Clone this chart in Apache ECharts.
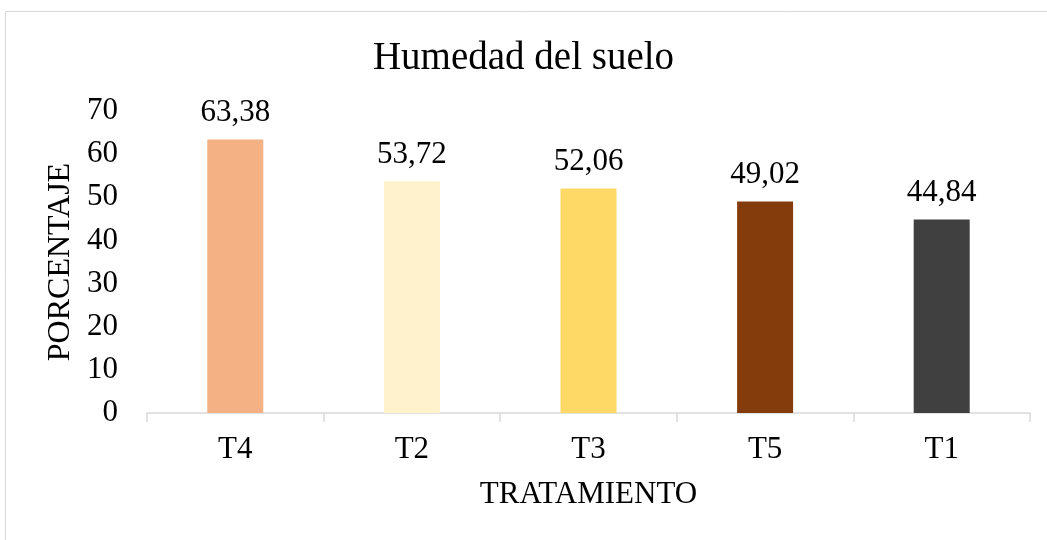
<!DOCTYPE html>
<html>
<head>
<meta charset="utf-8">
<script src="https://cdn.jsdelivr.net/npm/echarts@6/dist/echarts.min.js"></script>
<style>
  html, body { margin: 0; padding: 0; background: #fff; }
  #chart { width: 1047px; height: 540px; }
</style>
</head>
<body>
<div id="chart"></div>
<script>
var categories = ['T4', 'T2', 'T3', 'T5', 'T1'];
var values = [63.38, 53.72, 52.06, 49.02, 44.84];
var barColors = ['#F4B183', '#FFF2CC', '#FFD966', '#843C0C', '#404040'];

var font = "'Liberation Serif', 'Times New Roman', serif";
var chart = echarts.init(document.getElementById('chart'));

var option = {
  backgroundColor: '#fff',
  animation: false,
  graphic: [{
    type: 'rect',
    shape: { x: 5.5, y: 11.5, width: 1100, height: 600 },
    style: { fill: 'none', stroke: '#d9d9d9', lineWidth: 1 },
    silent: true
  }],
  title: {
    text: 'Humedad del suelo',
    left: 'center',
    top: 34,
    textStyle: { fontFamily: font, fontSize: 39, fontWeight: 'normal', color: '#000' }
  },
  grid: { left: 147, right: 17, top: 111, bottom: 127 },
  xAxis: {
    type: 'category',
    data: categories,
    name: 'TRATAMIENTO',
    nameLocation: 'middle',
    nameGap: 66,
    nameTextStyle: { fontFamily: font, fontSize: 31, color: '#000' },
    axisLine: { lineStyle: { color: '#d9d9d9', width: 1.5 } },
    axisTick: { show: true, length: 9, lineStyle: { color: '#d9d9d9', width: 1.5 } },
    axisLabel: { fontFamily: font, fontSize: 31, color: '#000', margin: 21 }
  },
  yAxis: {
    type: 'value',
    min: 0,
    max: 70,
    interval: 10,
    name: 'PORCENTAJE',
    nameLocation: 'middle',
    nameGap: 69,
    nameTextStyle: { fontFamily: font, fontSize: 32, color: '#000' },
    axisLine: { show: false },
    axisTick: { show: false },
    splitLine: { show: false },
    axisLabel: { fontFamily: font, fontSize: 31, color: '#000', margin: 29 }
  },
  series: [{
    type: 'bar',
    barWidth: 56,
    data: values.map(function (v, i) {
      return { value: v, itemStyle: { color: barColors[i] } };
    }),
    label: {
      show: true,
      position: 'top',
      distance: 11,
      fontFamily: font,
      fontSize: 31,
      color: '#000',
      formatter: function (p) { return p.value.toFixed(2).replace('.', ','); }
    }
  }]
};

chart.setOption(option);
</script>
</body>
</html>
